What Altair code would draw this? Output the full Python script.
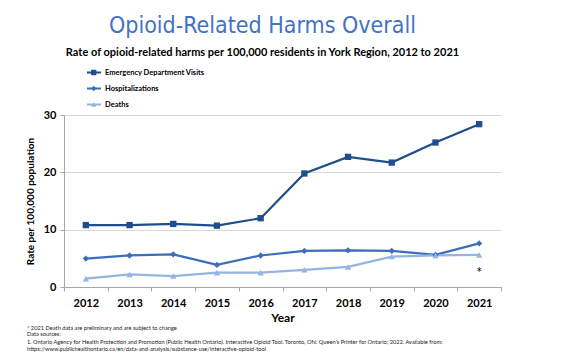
import altair as alt
import pandas as pd

years = [2012, 2013, 2014, 2015, 2016, 2017, 2018, 2019, 2020, 2021]
series_names = ["Emergency Department Visits", "Hospitalizations", "Deaths"]
ed_visits = [10.8, 10.8, 11.0, 10.7, 12.0, 19.8, 22.7, 21.7, 25.2, 28.4]
hospitalizations = [4.95, 5.5, 5.7, 3.85, 5.5, 6.3, 6.4, 6.3, 5.6, 7.6]
deaths = [1.45, 2.2, 1.9, 2.5, 2.5, 3.0, 3.5, 5.3, 5.5, 5.6]
y_ticks = [0, 5, 10, 15, 20, 25, 30]
asterisk_year = ["2021"]
asterisk_value = [3.0]

footnotes = [
    "* 2021 Death data are preliminary and are subject to change",
    "Data sources:",
    "1. Ontario Agency for Health Protection and Promotion (Public Health Ontario). Interactive Opioid Tool. Toronto, ON: Queen's Printer for Ontario; 2022. Available from:",
    "https://www.publichealthontario.ca/en/data-and-analysis/substance-use/interactive-opioid-tool",
]

colors = ["#1F4E8C", "#3D6EBB", "#94B4E2"]
shapes = ["square", "diamond", "triangle-up"]

rows = []
for name, vals in zip(series_names, [ed_visits, hospitalizations, deaths]):
    for yr, v in zip(years, vals):
        rows.append({"Year": str(yr), "Series": name, "Rate": v})
df = pd.DataFrame(rows)

FONT = "Lato"

x_enc = alt.X(
    "Year:O",
    scale=alt.Scale(type="band", paddingInner=0, paddingOuter=0),
    axis=alt.Axis(
        title="Year", labelAngle=0, tickBand="extent", grid=False,
        labelFont=FONT, labelFontSize=11, labelFontWeight="bold", labelColor="#000000",
        labelPadding=6, titleFont=FONT, titleFontSize=12, titleFontWeight="bold",
        titleColor="#000000", titlePadding=4, domainColor="#A6A6A6", tickColor="#A6A6A6",
        tickSize=4,
    ),
)
y_enc = alt.Y(
    "Rate:Q",
    scale=alt.Scale(domain=[0, 30]),
    axis=alt.Axis(
        values=y_ticks, title="Rate per 100,000 population", grid=True,
        gridColor="#D9D9D9", labelFont=FONT, labelFontSize=11, labelFontWeight="bold",
        labelColor="#000000", labelPadding=4, titleFont=FONT, titleFontSize=10,
        titleFontWeight="bold", titleColor="#000000", titlePadding=8,
        domainColor="#A6A6A6", tickColor="#A6A6A6", tickSize=4,
    ),
)

color_scale = alt.Scale(domain=series_names, range=colors)

line_legend = alt.Legend(
    title=None, orient="none", legendX=22, legendY=-50, symbolType="stroke",
    symbolStrokeWidth=2, symbolSize=196, labelFont=FONT, labelFontSize=7.5,
    labelFontWeight="bold", labelColor="#000000", clipHeight=15, rowPadding=1,
    padding=0, labelOffset=3,
)
point_legend = alt.Legend(
    title=None, orient="none", legendX=26, legendY=-50, symbolSize=28,
    symbolStrokeWidth=0, labelExpr="''", labelFontSize=7.5, clipHeight=15,
    rowPadding=1, padding=0, symbolOpacity=1,
)

lines = alt.Chart(df).mark_line(strokeWidth=2.2).encode(
    x=x_enc, y=y_enc,
    color=alt.Color("Series:N", scale=color_scale, sort=series_names, legend=line_legend),
)
points = alt.Chart(df).mark_point(filled=True, size=40, opacity=1).encode(
    x=x_enc, y=y_enc,
    color=alt.Color("Series:N", scale=color_scale, sort=series_names, legend=point_legend),
    shape=alt.Shape("Series:N", scale=alt.Scale(domain=series_names, range=shapes),
                    sort=series_names, legend=point_legend),
)

ast_df = pd.DataFrame({"Year": asterisk_year, "Rate": asterisk_value, "t": ["*"]})
asterisk = alt.Chart(ast_df).mark_text(
    font="DejaVu Sans", fontSize=10, color="#000000", baseline="middle", dy=2
).encode(x=alt.X("Year:O"), y=alt.Y("Rate:Q"), text="t:N")

foot_layers = []
foot_y = [213, 219, 227, 234]
for line, fy in zip(footnotes, foot_y):
    foot_layers.append(
        alt.Chart(pd.DataFrame({"t": [line]})).mark_text(
            font=FONT, fontSize=5.7, align="left", baseline="middle", color="#222222"
        ).encode(x=alt.value(-37), y=alt.value(fy), text="t:N")
    )

chart = alt.layer(lines, points, asterisk, *foot_layers).resolve_scale(
    color="independent", shape="independent"
).properties(
    width=437,
    height=172,
    autosize=alt.AutoSizeParams(type="none"),
    padding={"left": 56, "top": 107, "right": 56, "bottom": 66},
    title=alt.TitleParams(
        text="Opioid-Related Harms Overall",
        subtitle="Rate of opioid-related harms per 100,000 residents in York Region, 2012 to 2021",
        anchor="middle", dx=-20, offset=7,
        font="DejaVu Sans Condensed", fontSize=23, fontWeight="normal", color="#4472C4",
        subtitleFont=FONT, subtitleFontSize=11, subtitleFontWeight="bold",
        subtitleColor="#000000", subtitlePadding=9,
    ),
).configure_view(stroke=None)

chart.save("out.html", embed_options={"renderer": "svg", "actions": False})
